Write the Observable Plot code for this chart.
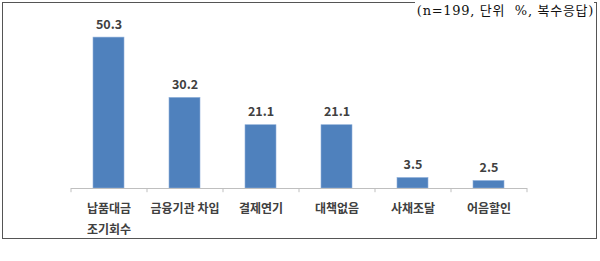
<!DOCTYPE html>
<html>
<head>
<meta charset="utf-8">
<script src="https://cdn.jsdelivr.net/npm/d3@7"></script>
<script src="https://cdn.jsdelivr.net/npm/@observablehq/plot@0.6"></script>
<style>
  html, body { margin: 0; padding: 0; background: #fff; }
  #wrap { position: relative; width: 600px; height: 261px; overflow: hidden; }
  #frame { position: absolute; left: 2px; top: 2px; width: 593px; height: 235px; border: 1.5px solid #555; box-sizing: content-box; }
  #note { position: absolute; right: 6px; top: 2px; font-family: "DejaVu Serif", "Noto Sans CJK KR", serif; font-size: 13px; letter-spacing: 0.7px; color: #111; line-height: 17px; background: #fff; padding-left: 2px; white-space: pre; }
  #chart { position: absolute; left: 0; top: 0; }
</style>
</head>
<body>
<div id="wrap">
  <div id="frame"></div>
  <div id="chart"></div>
  <div id="note">(n=199, 단위  %, 복수응답)</div>
</div>
<script>
const categories = ["납품대금\n조기회수", "금융기관 차입", "결제연기", "대책없음", "사채조달", "어음할인"];
const values = [50.3, 30.2, 21.1, 21.1, 3.5, 2.5];
const valueLabels = ["50.3", "30.2", "21.1", "21.1", "3.5", "2.5"];

const data = categories.map((c, i) => ({ cat: c, v: values[i], label: valueLabels[i] }));
const step = 76;

const chart = Plot.plot({
  width: 600,
  height: 261,
  marginLeft: 71,
  marginRight: 73,
  marginTop: 8,
  marginBottom: 73,
  style: { fontFamily: "'Noto Sans CJK KR', sans-serif", background: "transparent" },
  x: { domain: categories, paddingInner: 0.59, paddingOuter: 0.295, axis: null },
  y: { domain: [0, 60], axis: null },
  marks: [
    Plot.barY(data, { x: "cat", y: "v", fill: "#4F81BD", stroke: "#8FB0DA", strokeWidth: 0.6 }),
    Plot.ruleY([0], { stroke: "#BFBFBF", strokeWidth: 1 }),
    Plot.ruleX(categories, { x: d => d, y1: 0, y2: -1.4, dx: -step / 2, stroke: "#BFBFBF" }),
    Plot.ruleX([categories[categories.length - 1]], { x: d => d, y1: 0, y2: -1.4, dx: step / 2, stroke: "#BFBFBF" }),
    Plot.text(data, { x: "cat", y: "v", text: "label", dy: -13, fontSize: 12.5, fontWeight: "bold", fill: "#404040" }),
    Plot.axisX({ tickSize: 0, tickPadding: 10, fontSize: 12, fontWeight: "bold", fill: "#404040", lineHeight: 1.75, label: null })
  ]
});
document.getElementById("chart").appendChild(chart);
</script>
</body>
</html>
